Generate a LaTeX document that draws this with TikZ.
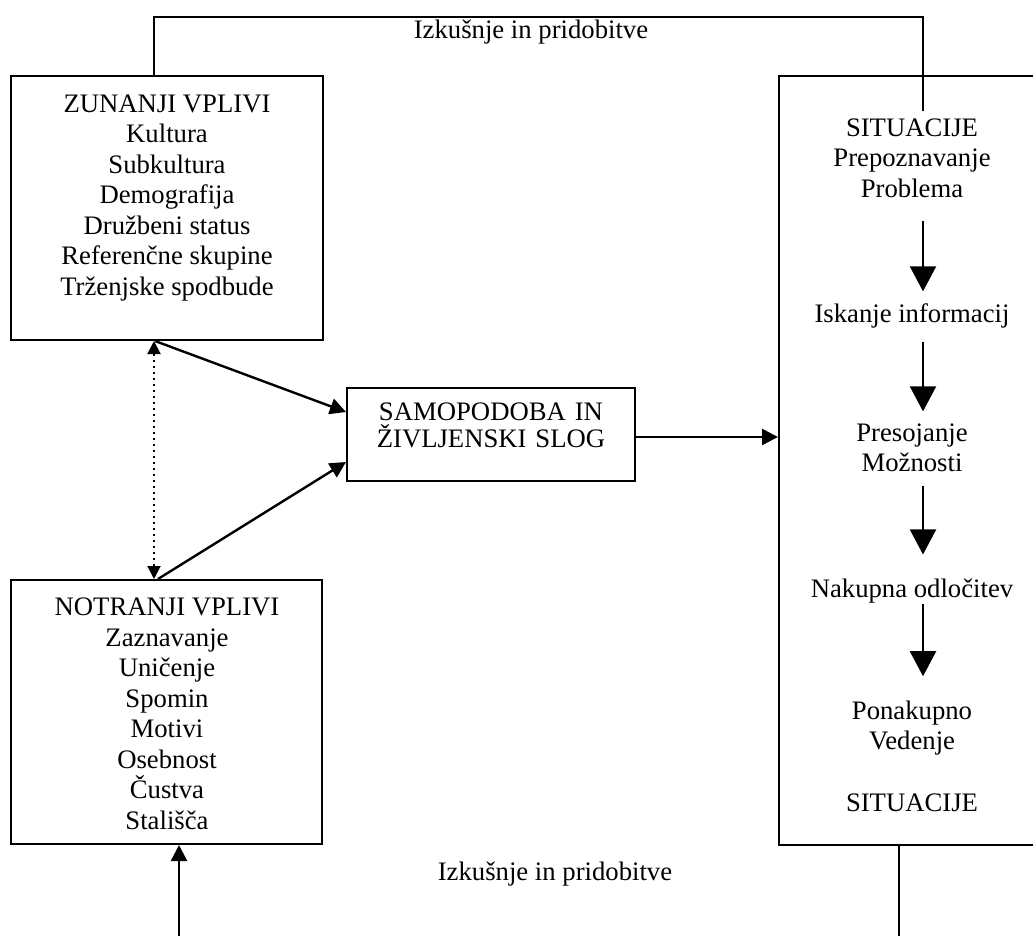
\documentclass[tikz,border=0pt]{standalone}
\usepackage{fontspec}
\setmainfont{Liberation Serif}
\usetikzlibrary{positioning, arrows.meta, fit, calc}
\tikzset{
  box/.style={draw, line width=1pt, inner sep=0pt},
  txt/.style={align=center, inner sep=0pt,
              font=\fontsize{13.35pt}{15.25pt}\selectfont},
  feed/.style={line width=1pt},
  flow/.style={-{Triangle[width=13pt,length=12.5pt]}, line width=1pt},
  arr/.style={-{Triangle[width=8pt,length=8pt]}, line width=1.2pt},
  arr2/.style={{Triangle[width=6.5pt,length=6.5pt]}-{Triangle[width=6.5pt,length=6.5pt]},
               line width=1pt, dotted},
}

\begin{document}
\begin{tikzpicture}[x=0.5pt, y=-0.5pt]
  \useasboundingbox (0,0) rectangle (1033,936);
  \clip (0,0) rectangle (1033,936);

  % boxes
  \node[box, fit={(11,76) (323,340)}] (zun) {};
  \node[box, fit={(11,580) (322,844)}] (notr) {};
  \node[box, fit={(347,388) (635,481)}, txt,
        font=\fontsize{13.35pt}{13.6pt}\selectfont] (mid) {SAMOPODOBA IN\\ŽIVLJENSKI SLOG};
  \node[box, fit={(779,76) (1045,845)}] (sit) {};

  % box texts
  \node[txt] (zuntxt) at (167,198) {ZUNANJI VPLIVI\\Kultura\\Subkultura\\Demografija\\Družbeni status\\Referenčne skupine\\Trženjske spodbude};
  \node[txt] (notrtxt) at (167,714) {NOTRANJI VPLIVI\\Zaznavanje\\Uničenje\\Spomin\\Motivi\\Osebnost\\Čustva\\Stališča};
  \node[txt] (sitA)  at (912,158) {SITUACIJE\\Prepoznavanje\\Problema};
  \node[txt] (iska)  at (912,316) {Iskanje informacij};
  \node[txt] (preso) at (912,448) {Presojanje\\Možnosti};
  \node[txt] (nakup) at (912,591) {Nakupna odločitev};
  \node[txt] (ponak) at (912,728) {Ponakupno\\Vedenje};
  \node[txt] (sitB)  at (912,803) {SITUACIJE};

  % labels
  \node[txt] (izkTop) at (531,32)  {Izkušnje in pridobitve};
  \node[txt] (izkBot) at (555,874) {Izkušnje in pridobitve};

  % feedback lines
  \coordinate (fbL) at (154,17);
  \coordinate (fbR) at (923,17);
  \coordinate (bL) at (179,936);
  \coordinate (bR) at (899,936);
  \draw[feed] (zun.north -| fbL) -- (fbL) -- (fbR) -- ($(sitA.north -| fbR)+(0,-7)$);
  \draw[feed] (sit.south -| bR) -- (bR);
  \draw[arr] (bL) -- (notr.south -| bL);

  % influences
  \draw[arr] ($(zun.south)+(-12,0)$) -- ($(mid.west)+(0,-22.5)$);
  \draw[arr] ($(notr.north)+(-8.5,0)$) -- ($(mid.west)+(0,27.5)$);
  \draw[arr2] ($(zun.south)+(-13,0)$) -- ($(notr.north)+(-12.5,0)$);
  \draw[arr] ($(mid.east)+(0,2.5)$) -- ($(mid.east -| sit.west)+(0,2.5)$);

  % decision steps
  \draw[flow] ($(sitA.south -| fbR)+(0,23)$) -- ($(iska.north -| fbR)+(0,-12)$);
  \draw[flow] ($(iska.south -| fbR)+(0,13)$) -- ($(preso.north -| fbR)+(0,-12)$);
  \draw[flow] ($(preso.south -| fbR)+(0,13)$) -- ($(nakup.north -| fbR)+(0,-24)$);
  \draw[flow] ($(nakup.south -| fbR)+(0,0)$) -- ($(ponak.north -| fbR)+(0,-24)$);
\end{tikzpicture}
\end{document}
